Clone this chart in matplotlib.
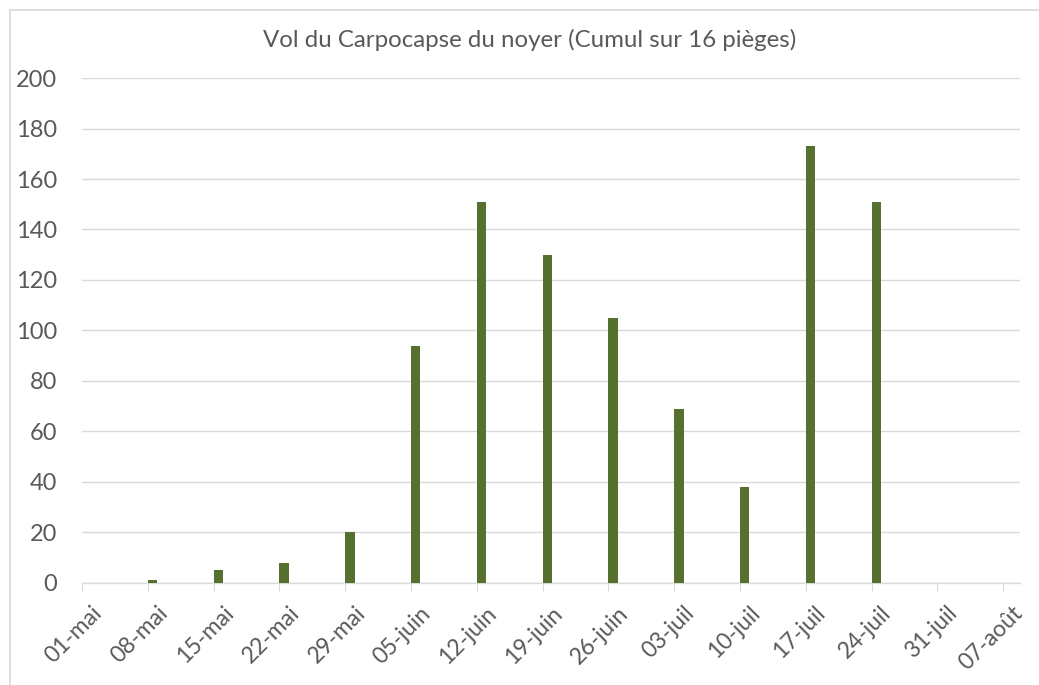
import numpy as np
import matplotlib.pyplot as plt
import matplotlib.dates as mdates
import matplotlib.transforms as mtransforms
from matplotlib.patches import Rectangle

# weekly trap counts
dates = np.array(['2023-05-08', '2023-05-15', '2023-05-22', '2023-05-29',
                  '2023-06-05', '2023-06-12', '2023-06-19', '2023-06-26',
                  '2023-07-03', '2023-07-10', '2023-07-17', '2023-07-24'],
                 dtype='datetime64[D]')
counts = [1, 5, 8, 20, 94, 151, 130, 105, 69, 38, 173, 151]

tick_dates = np.arange(np.datetime64('2023-05-01'), np.datetime64('2023-08-08'),
                       np.timedelta64(7, 'D'))
tick_labels = ['01-mai', '08-mai', '15-mai', '22-mai', '29-mai', '05-juin',
               '12-juin', '19-juin', '26-juin', '03-juil', '10-juil',
               '17-juil', '24-juil', '31-juil', '07-août']

plt.rcParams['font.family'] = ['Lato', 'DejaVu Sans']

grey = '#595959'
fig = plt.figure(figsize=(10.39, 6.85), dpi=100)
ax = fig.add_axes([0.079, 0.149, 0.9027, 0.7371])

x = mdates.date2num(dates.astype('datetime64[s]').astype(object))
xt = mdates.date2num(tick_dates.astype('datetime64[s]').astype(object))

ax.bar(x, counts, width=1, align='edge', color='#55702f', zorder=3)

ax.set_xlim(xt[0], xt[-1] + 1.8)
ax.set_ylim(0, 200)
ax.set_yticks(np.arange(0, 201, 20))
ax.set_xticks(xt)
ax.set_xticklabels(tick_labels, rotation=45, ha='right', rotation_mode='anchor')

ax.grid(axis='y', color='#d9d9d9', linewidth=1, zorder=0)
for s in ['top', 'right', 'left']:
    ax.spines[s].set_visible(False)
ax.spines['bottom'].set_color('#d9d9d9')
ax.spines['bottom'].set_linewidth(1)
ax.tick_params(axis='y', length=0, labelsize=17, labelcolor=grey, pad=18)
ax.tick_params(axis='x', length=6, color='#d9d9d9', labelsize=16.5,
               labelcolor=grey, pad=8)

# shift rotated date labels a little to the right, like the original
shift = mtransforms.ScaledTranslation(9 / 100, 0, fig.dpi_scale_trans)
for lab in ax.get_xticklabels():
    lab.set_transform(lab.get_transform() + shift)

fig.text(0.51, 0.942, 'Vol du Carpocapse du noyer (Cumul sur 16 pièges)',
         ha='center', va='center', fontsize=17.3, color=grey)

# chart frame, only top and left edges fall inside the picture
fig.patches.append(Rectangle((0.0092, -0.05), 1.1, 1.0355, transform=fig.transFigure,
                             fill=False, edgecolor='#d9d9d9', linewidth=1.2))

plt.savefig('out.png', dpi=100)
